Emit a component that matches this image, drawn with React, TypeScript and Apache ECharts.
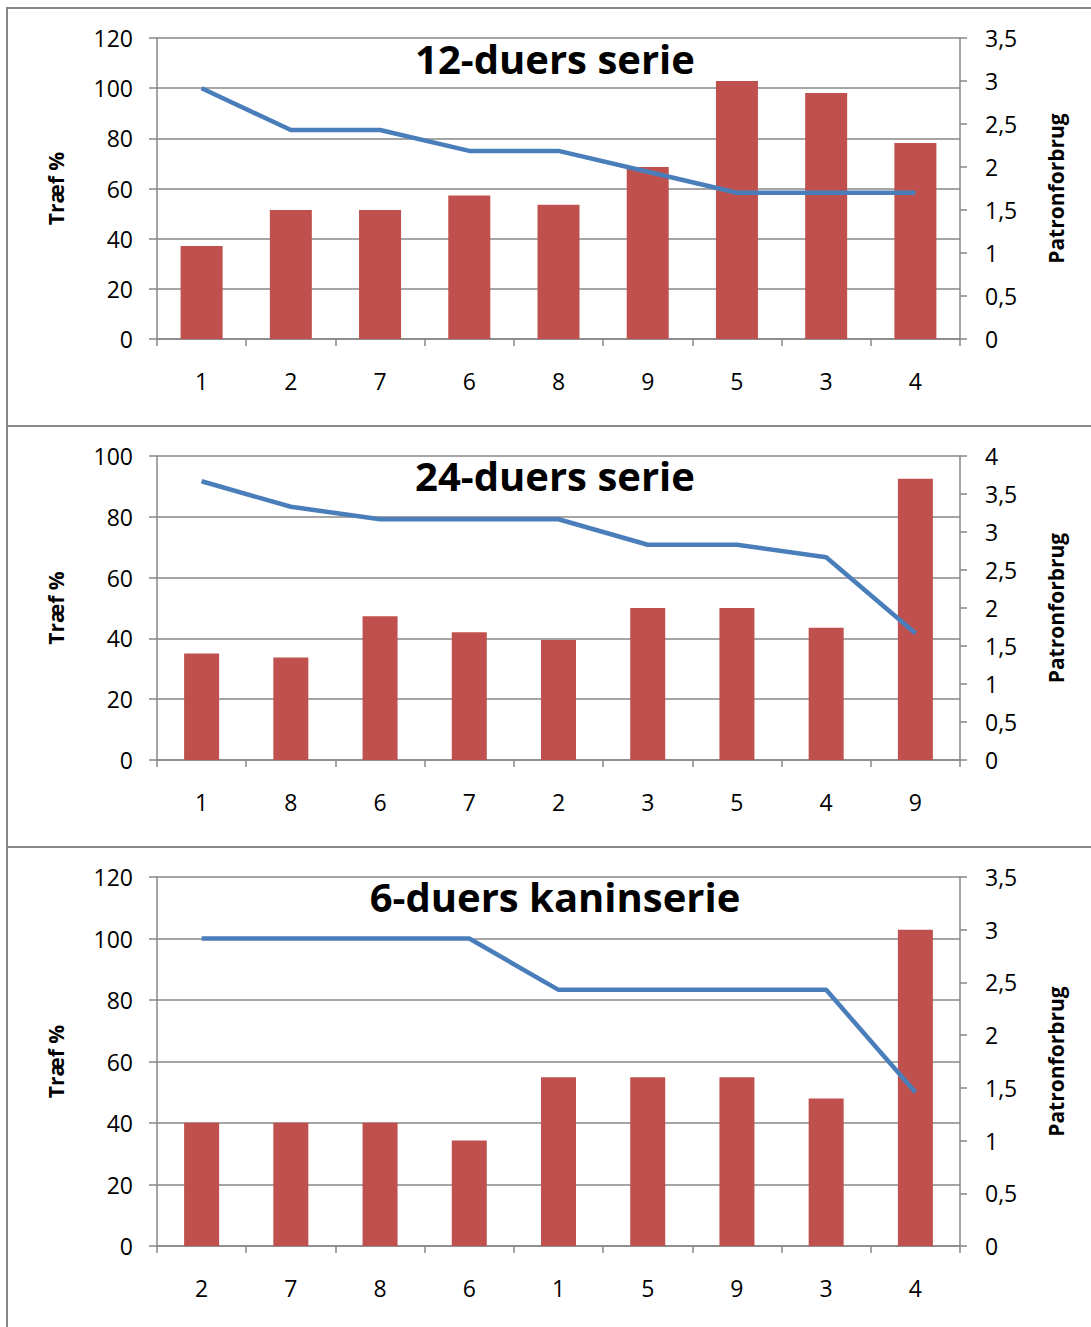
import React, { useEffect, useRef } from "react";
import * as echarts from "echarts";

const cats1 = ["1", "2", "7", "6", "8", "9", "5", "3", "4"];
const hits1 = [100, 83.3, 83.3, 75, 75, 66.7, 58.3, 58.3, 58.3];
const shots1 = [1.08, 1.5, 1.5, 1.67, 1.56, 2.0, 3.0, 2.86, 2.28];

const cats2 = ["1", "8", "6", "7", "2", "3", "5", "4", "9"];
const hits2 = [91.7, 83.3, 79.2, 79.2, 79.2, 70.8, 70.8, 66.7, 41.7];
const shots2 = [1.4, 1.35, 1.89, 1.68, 1.58, 2.0, 2.0, 1.74, 3.7];

const cats3 = ["2", "7", "8", "6", "1", "5", "9", "3", "4"];
const hits3 = [100, 100, 100, 100, 83.3, 83.3, 83.3, 83.3, 50];
const shots3 = [1.17, 1.17, 1.17, 1.0, 1.6, 1.6, 1.6, 1.4, 3.0];

const titles = ["12-duers serie", "24-duers serie", "6-duers kaninserie"];
const leftMax = [120, 100, 120];
const rightMax = [3.5, 4, 3.5];
const leftName = "Træf %";
const rightName = "Patronforbrug";

const GRAY = "#878787";
const FONT = "Open Sans";

export default function App() {
  const ref = useRef<HTMLDivElement>(null);
  useEffect(() => {
    if (!ref.current) return;
    const chart = echarts.init(ref.current, null, { renderer: "svg" });
    const grids = [
      { top: 38, bottom: 339 },
      { top: 456, bottom: 760 },
      { top: 877, bottom: 1246 },
    ];
    const cats = [cats1, cats2, cats3];
    const hits = [hits1, hits2, hits3];
    const shots = [shots1, shots2, shots3];
    const barW = [42, 35, 35];
    const titleY = [58, 475, 896];
    const boxes = [
      { y: 8, h: 418 },
      { y: 426, h: 421 },
      { y: 847, h: 500 },
    ];

    const grid: any[] = [];
    const xAxis: any[] = [];
    const yAxis: any[] = [];
    const series: any[] = [];
    const graphic: any[] = [];

    for (let i = 0; i < 3; i++) {
      grid.push({
        left: 157,
        width: 803,
        top: grids[i].top,
        height: grids[i].bottom - grids[i].top,
        containLabel: false,
      });
      xAxis.push({
        type: "category",
        gridIndex: i,
        data: cats[i],
        axisLine: { lineStyle: { color: GRAY, width: 1.5 } },
        axisTick: { show: true, length: 7, lineStyle: { color: GRAY, width: 1.5 } },
        axisLabel: { color: "#000", fontSize: 23, fontFamily: FONT, margin: 30 },
        splitLine: { show: false },
      });
      yAxis.push({
        type: "value",
        gridIndex: i,
        position: "left",
        min: 0,
        max: leftMax[i],
        interval: 20,
        name: leftName,
        nameLocation: "middle",
        nameRotate: 90,
        nameGap: 91,
        nameTextStyle: { color: "#000", fontSize: 21, fontWeight: "bold", fontFamily: FONT },
        axisLine: { show: true, lineStyle: { color: GRAY, width: 1.5 } },
        axisTick: { show: true, length: 8, lineStyle: { color: GRAY, width: 1.5 } },
        axisLabel: { color: "#000", fontSize: 23, fontFamily: FONT, margin: 24 },
        splitLine: { show: true, lineStyle: { color: GRAY, width: 1.5 } },
      });
      yAxis.push({
        type: "value",
        gridIndex: i,
        position: "right",
        min: 0,
        max: rightMax[i],
        interval: 0.5,
        name: rightName,
        nameLocation: "middle",
        nameRotate: 90,
        nameGap: 85,
        nameTextStyle: { color: "#000", fontSize: 21, fontWeight: "bold", fontFamily: FONT },
        axisLine: { show: true, lineStyle: { color: GRAY, width: 1.5 } },
        axisTick: { show: true, length: 7, lineStyle: { color: GRAY, width: 1.5 } },
        axisLabel: {
          color: "#000",
          fontSize: 23,
          fontFamily: FONT,
          margin: 25,
          formatter: (v: number) => String(v).replace(".", ","),
        },
        splitLine: { show: false },
      });
      series.push({
        type: "bar",
        xAxisIndex: i,
        yAxisIndex: i * 2 + 1,
        data: shots[i],
        barWidth: barW[i],
        itemStyle: { color: "#C0504D" },
        z: 2,
      });
      series.push({
        type: "line",
        xAxisIndex: i,
        yAxisIndex: i * 2,
        data: hits[i],
        symbol: "none",
        lineStyle: { color: "#4A7EBB", width: 4.5 },
        z: 3,
      });
      graphic.push({
        type: "rect",
        shape: { x: 7, y: boxes[i].y, width: 1110, height: boxes[i].h },
        style: { fill: "none", stroke: GRAY, lineWidth: 2 },
        z: -1,
      });
      graphic.push({
        type: "text",
        x: 555,
        y: titleY[i],
        style: {
          text: titles[i],
          fill: "#000",
          fontSize: 40,
          fontWeight: "bold",
          fontFamily: FONT,
          align: "center",
          verticalAlign: "middle",
        },
        z: 10,
      });
    }

    chart.setOption({
      animation: false,
      backgroundColor: "#fff",
      grid,
      xAxis,
      yAxis,
      series,
      graphic,
    });
    return () => chart.dispose();
  }, []);
  return (
    <div
      ref={ref}
      style={{ position: "absolute", left: 0, top: 0, width: 1091, height: 1327 }}
    />
  );
}
